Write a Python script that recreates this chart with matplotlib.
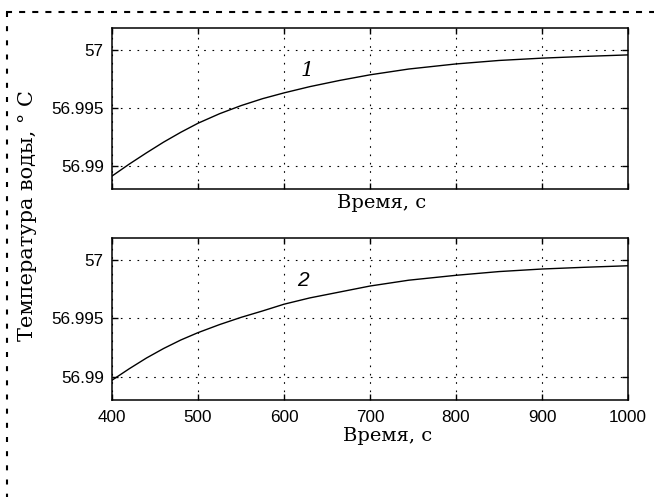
import matplotlib
matplotlib.use('Agg')
import matplotlib.pyplot as plt
from matplotlib import rcParams
from matplotlib.lines import Line2D
from matplotlib.ticker import FuncFormatter

# fonts
rcParams.update({
    "font.family": ['Liberation Sans', 'DejaVu Sans'],
    "font.size": 12,
})
serif = ['DejaVu Serif']

# data: time, s / water temperature, deg C
time_s = [400, 420, 440, 460, 480, 500, 525, 550, 575, 600,
          630, 665, 700, 745, 800, 850, 900, 950, 1000]
temp_1 = [56.98912, 56.99015, 56.99112, 56.99205, 56.99290, 56.99368,
          56.99450, 56.99520, 56.99580, 56.99630, 56.99684, 56.99738,
          56.99786, 56.99836, 56.99880, 56.99910, 56.99930, 56.99945,
          56.99958]
temp_2 = [56.98970, 56.99068, 56.99160, 56.99242, 56.99315, 56.99378,
          56.99447, 56.99509, 56.99564, 56.99622, 56.99676, 56.99727,
          56.99778, 56.99828, 56.99870, 56.99902, 56.99924, 56.99939,
          56.99952]
curve_labels = ['1', '2']

x_ticks = [400, 500, 600, 700, 800, 900, 1000]
y_ticks = [56.99, 56.995, 57.0]
xlabel = 'Время, с'
ylabel = 'Температура воды, ° С'

fig = plt.figure(figsize=(6.54, 4.97), dpi=100)
ax1 = fig.add_axes([0.1713, 0.6197, 0.7890, 0.3239])
ax2 = fig.add_axes([0.1713, 0.1952, 0.7890, 0.3259])

for ax, temp in zip([ax1, ax2], [temp_1, temp_2]):
    ax.plot(time_s, temp, c='k', linewidth=1.0)
    ax.set_xlim(400, 1000)
    ax.set_ylim(56.988, 57.0019)
    ax.set_xticks(x_ticks)
    ax.set_yticks(y_ticks)
    ax.yaxis.set_major_formatter(FuncFormatter(lambda v, p: '%g' % round(v, 4)))
    ax.tick_params(direction='in', top=True, right=True, length=4.5,
                   width=1.0, colors='k', labelsize=12.3)
    ax.tick_params(axis='y', pad=6)
    ax.tick_params(axis='x', pad=7)
    ax.grid(True, color='k', linestyle=(0, (1.5, 6)), linewidth=0.8)
    for s in ax.spines.values():
        s.set_linewidth(1.1)

ax1.tick_params(labelbottom=False)

# curve numbers
ax1.text(627, 56.99827, curve_labels[0], family=serif, style='italic',
         fontsize=15, ha='center', va='center')
ax2.text(622, 56.99828, curve_labels[1], family=['Liberation Sans'],
         style='italic', fontsize=15, ha='center', va='center')

# axis labels
ax1.set_xlabel(xlabel, family=serif, fontsize=14)
ax1.xaxis.set_label_coords(0.523, -0.09)
ax1.xaxis.label.set_verticalalignment('center')
ax2.set_xlabel(xlabel, family=serif, fontsize=14)
ax2.xaxis.set_label_coords(0.535, -0.225)
ax2.xaxis.label.set_verticalalignment('center')
fig.text(28 / 654, 1 - 216 / 497, ylabel, family=serif, fontsize=15,
         rotation=90, ha='center', va='center')

# dashed frame on top and left
fig.add_artist(Line2D([6 / 654, 1.0], [1 - 12 / 497, 1 - 12 / 497],
                      transform=fig.transFigure, color='k', linewidth=1.5,
                      linestyle=(0, (2.9, 3.4))))
fig.add_artist(Line2D([7 / 654, 7 / 654], [1 - 12 / 497, 0.0],
                      transform=fig.transFigure, color='k', linewidth=1.5,
                      linestyle=(0, (2.4, 4.4))))

plt.savefig('out.png', dpi=100)
plt.close()
